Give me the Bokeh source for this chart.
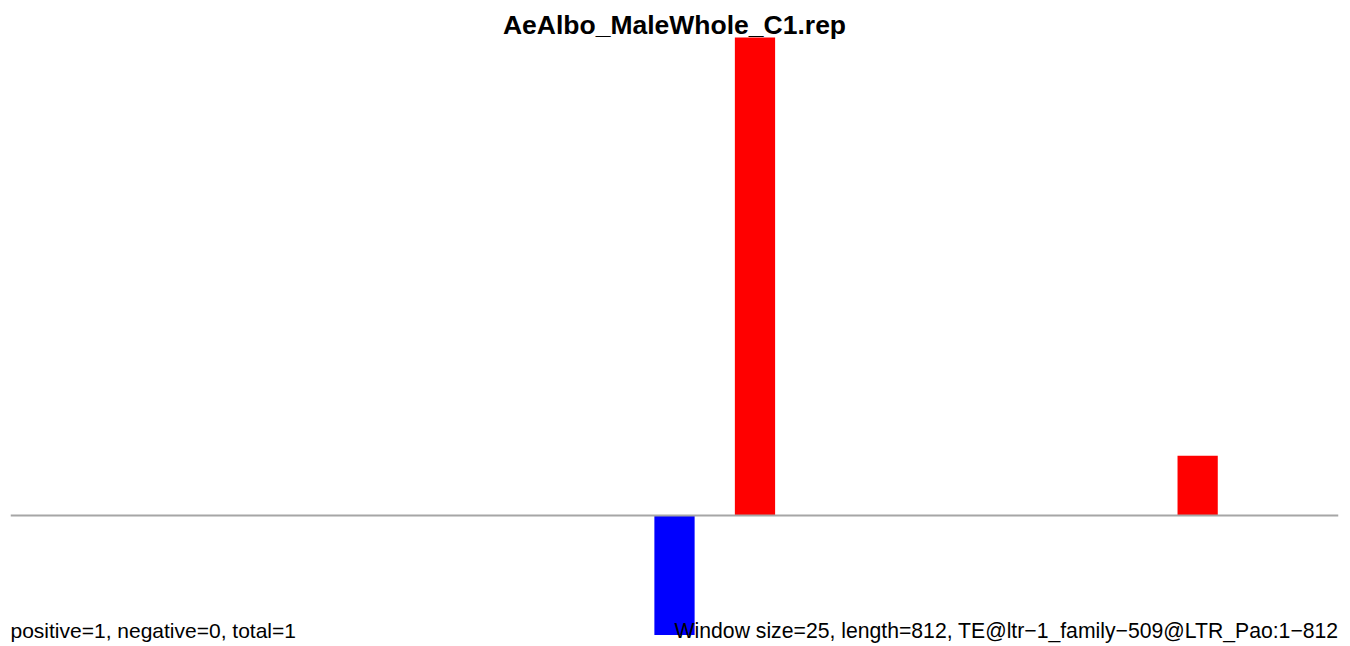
from bokeh.plotting import figure
from bokeh.models import Range1d
from bokeh.core.properties import value
from bokeh.embed import file_html
from bokeh.resources import INLINE

# ---- data (windows of 25 bp along a 812 bp element -> 33 windows) ----
window_index = list(range(33))
positive_counts = [0, 0, 0, 0, 0, 0, 0, 0, 0, 0, 0, 0, 0, 0, 0, 0,
                   0, 0, 8, 0, 0, 0, 0, 0, 0, 0, 0, 0, 0, 1, 0, 0, 0]
negative_counts = [0, 0, 0, 0, 0, 0, 0, 0, 0, 0, 0, 0, 0, 0, 0, 0,
                   2, 0, 0, 0, 0, 0, 0, 0, 0, 0, 0, 0, 0, 0, 0, 0, 0]
title_text = "AeAlbo_MaleWhole_C1.rep"
left_note = "positive=1, negative=0, total=1"
right_note = "Window size=25, length=812, TE@ltr\u22121_family\u2212509@LTR_Pao:1\u2212812"

n_windows = len(window_index)
px_per_unit = 59.75
frame_h = 644
y_max = 8 + 37 / px_per_unit
y_min = -2 - (frame_h - 634.5) / px_per_unit

p = figure(width=1340, height=frame_h, frame_width=1328, frame_height=frame_h,
           min_border_left=10, min_border_right=2, min_border_top=0, min_border_bottom=0,
           x_range=Range1d(0, n_windows), y_range=Range1d(y_min, y_max),
           output_backend="svg", toolbar_location=None)
p.axis.visible = False
p.grid.visible = False
p.outline_line_color = None
p.background_fill_color = "white"
p.border_fill_color = "white"

centers = [i + 0.5 for i in window_index]
neg_tops = [-v for v in negative_counts]

p.vbar(x=centers, width=1.0, bottom=0, top=positive_counts,
       fill_color="#FF0000", line_color=None)
p.vbar(x=centers, width=1.0, bottom=neg_tops, top=0,
       fill_color="#0000FF", line_color=None)

p.line(x=[0, n_windows], y=[0, 0], line_color="#A6A6A6", line_width=2)

font = value("Liberation Sans")
p.text(x=[n_windows / 2], y=[8 + (37 - 24) / px_per_unit], text=[title_text],
       text_font=font, text_font_size="26.5px", text_font_style="bold",
       text_align="center", text_baseline="alphabetic", text_color="black")
note_y = -2.0 + 5 / px_per_unit
p.text(x=[0], y=[note_y], text=[left_note],
       text_font=font, text_font_size="21px",
       text_align="left", text_baseline="alphabetic", text_color="black")
p.text(x=[n_windows], y=[note_y], text=[right_note],
       text_font=font, text_font_size="21.2px",
       text_align="right", text_baseline="alphabetic", text_color="black")

open("out.html", "w").write(file_html(p, INLINE))
